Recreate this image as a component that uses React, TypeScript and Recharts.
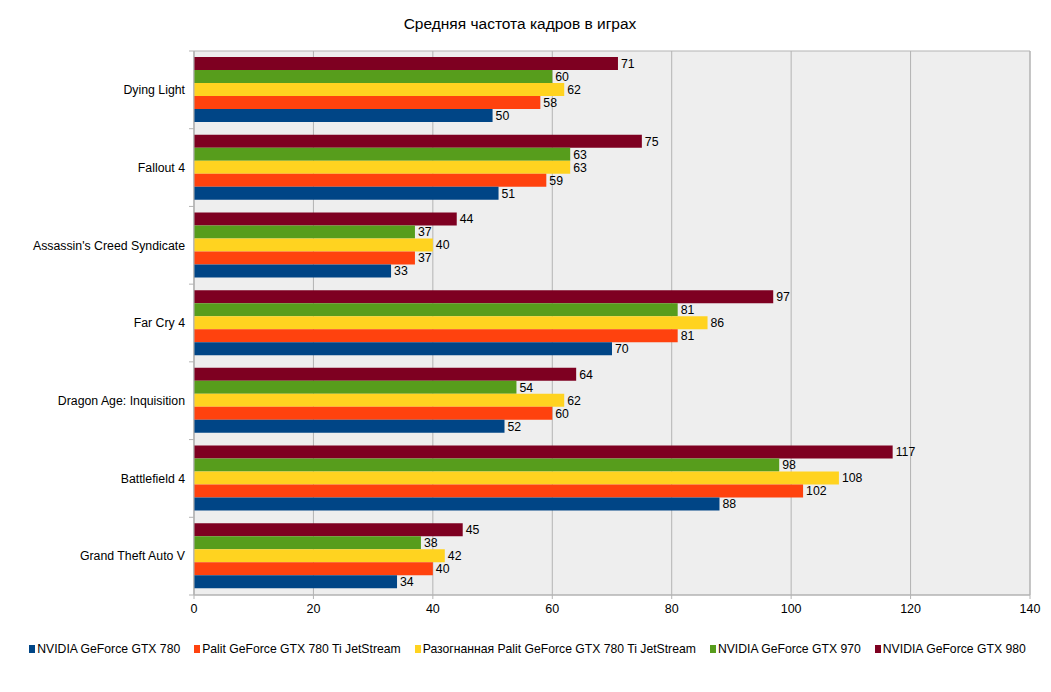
import { BarChart, Bar, XAxis, YAxis, CartesianGrid, LabelList, ReferenceArea } from 'recharts';

const games = [
  'Dying Light',
  'Fallout 4',
  "Assassin's Creed Syndicate",
  'Far Cry 4',
  'Dragon Age: Inquisition',
  'Battlefield 4',
  'Grand Theft Auto V',
];

const gtx780 = [50, 51, 33, 70, 52, 88, 34];
const palit780ti = [58, 59, 37, 81, 60, 102, 40];
const palit780tiOc = [62, 63, 40, 86, 62, 108, 42];
const gtx970 = [60, 63, 37, 81, 54, 98, 38];
const gtx980 = [71, 75, 44, 97, 64, 117, 45];

const xTicks = [0, 20, 40, 60, 80, 100, 120, 140];

// legend order (left to right)
const series = [
  { key: 'gtx780', name: 'NVIDIA GeForce GTX 780', color: '#004586', values: gtx780 },
  { key: 'palit', name: 'Palit GeForce GTX 780 Ti JetStream', color: '#ff420e', values: palit780ti },
  { key: 'palitOc', name: 'Разогнанная Palit GeForce GTX 780 Ti JetStream', color: '#ffd320', values: palit780tiOc },
  { key: 'gtx970', name: 'NVIDIA GeForce GTX 970', color: '#579d1c', values: gtx970 },
  { key: 'gtx980', name: 'NVIDIA GeForce GTX 980', color: '#7e0021', values: gtx980 },
];

const data = games.map((name, i) => {
  const row: Record<string, string | number> = { name };
  series.forEach(s => {
    row[s.key] = s.values[i];
  });
  return row;
});

const W = 1051;
const H = 692;
const margin = { top: 51, right: 21, bottom: 67, left: 0 };
const band = (H - margin.top - margin.bottom - 30) / games.length;

function GameTick(props: any) {
  const { x, y, payload, index } = props;
  return (
    <g>
      {index === 0 && <line x1={x + 3} x2={x + 8} y1={y - band / 2} y2={y - band / 2} stroke="#b3b3b3" />}
      <line x1={x + 3} x2={x + 8} y1={y + band / 2} y2={y + band / 2} stroke="#b3b3b3" />
      <text x={x - 1} y={y} dy="0.35em" textAnchor="end" fill="#000" fontSize={12.3}>
        {payload.value}
      </text>
    </g>
  );
}

export default function App() {
  // top-to-bottom order inside each group is the reverse of the legend
  const drawOrder = [...series].reverse();

  return (
    <div
      style={{
        position: 'absolute',
        left: 0,
        top: 0,
        width: W,
        height: H,
        background: '#fff',
        fontFamily: '"Liberation Sans", Arial, sans-serif',
      }}
    >
      <div style={{ position: 'absolute', top: 15, left: 0, width: 1040, textAlign: 'center', fontSize: 15.5, color: '#000' }}>
        Средняя частота кадров в играх
      </div>

      <BarChart
        width={W}
        height={H}
        data={data}
        layout="vertical"
        margin={margin}
        barSize={13}
        barGap={0}
      >
        <CartesianGrid horizontal={false} stroke="#b3b3b3" fill="#eeeeee" />
        <ReferenceArea x1={0} x2={140} fill="none" stroke="#b3b3b3" />
        <XAxis
          type="number"
          domain={[0, 140]}
          ticks={xTicks}
          axisLine={{ stroke: '#b3b3b3' }}
          tickLine={{ stroke: '#b3b3b3' }}
          tickSize={4}
          tickMargin={5}
          tick={{ fill: '#000', fontSize: 12.5 }}
          interval={0}
        />
        <YAxis
          type="category"
          dataKey="name"
          width={194}
          axisLine={{ stroke: '#b3b3b3' }}
          tickLine={false}
          tick={<GameTick />}
          interval={0}
        />
        {drawOrder.map(s => (
          <Bar key={s.key} dataKey={s.key} name={s.name} fill={s.color} isAnimationActive={false}>
            <LabelList dataKey={s.key} position="right" offset={3} fill="#000" fontSize={12.3} />
          </Bar>
        ))}
      </BarChart>

      <div
        style={{
          position: 'absolute',
          top: 642,
          left: 0,
          width: W,
          display: 'flex',
          justifyContent: 'center',
          gap: 14,
          fontSize: 12.2,
          color: '#000',
          paddingLeft: 2,
        }}
      >
        {series.map(s => (
          <div key={s.key} style={{ display: 'flex', alignItems: 'center', gap: 2 }}>
            <span style={{ display: 'inline-block', width: 6, height: 8, background: s.color }} />
            <span>{s.name}</span>
          </div>
        ))}
      </div>
    </div>
  );
}
